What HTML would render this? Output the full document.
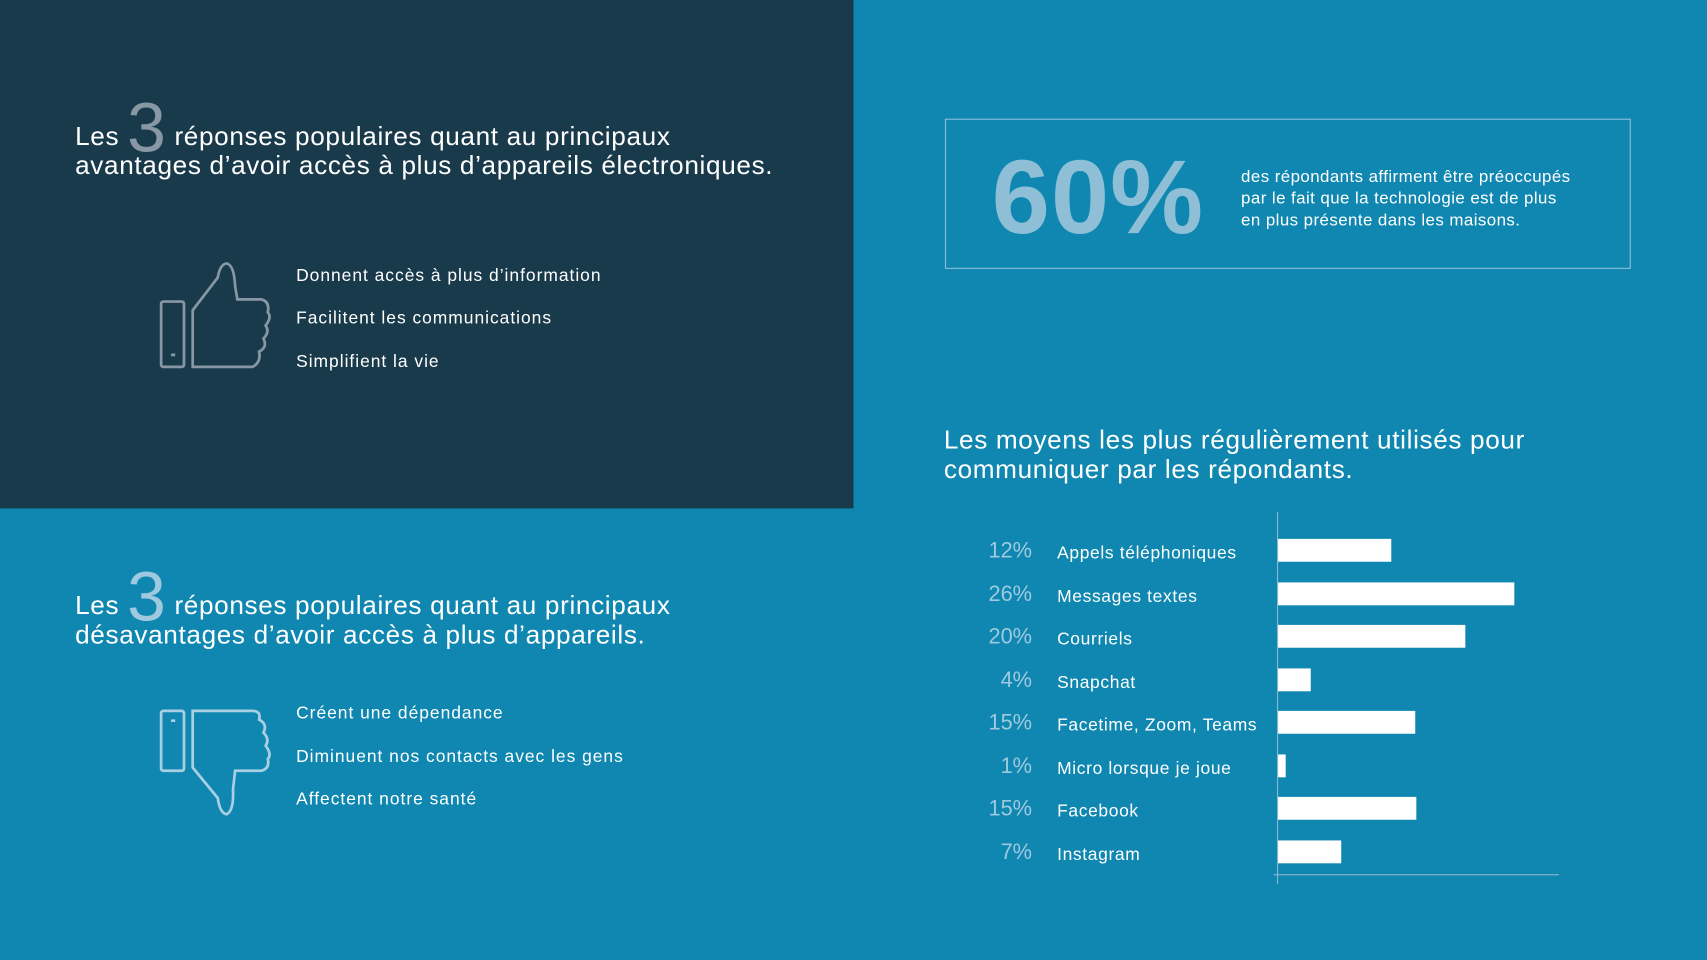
<!DOCTYPE html>
<html><head><meta charset="utf-8"><style>
html,body{margin:0;padding:0;width:1707px;height:960px;overflow:hidden;background:#0f87b1}
#w{position:absolute;left:0;top:0;width:1568px;height:882px;transform:scale(1.08865);transform-origin:0 0;background:#0f87b1;font-family:"Liberation Sans",sans-serif;color:#fff}
.a{position:absolute;white-space:nowrap}
.h{font-size:24px;font-weight:300;letter-spacing:0.6px;line-height:28px}
.it{font-size:16px;letter-spacing:0.9px}
.pc{font-size:20px;color:#9ec9de;width:60px;text-align:right;left:888px}
.lb{font-size:16px;left:971px;letter-spacing:0.6px}
.bar{position:absolute;left:1174px;height:21px;background:#fff}
</style></head><body><div id="w">
<div class="a" style="left:0;top:0;width:784px;height:467px;background:#193a4b"></div>

<div class="a h" style="left:69px;top:111px">Les <span style="font-size:64px;color:#8797a3;position:relative;top:6px;line-height:0">3</span> réponses populaires quant au principaux</div>
<div class="a h" style="left:69px;top:139px">avantages d’avoir accès à plus d’appareils électroniques.</div>
<div class="a it" style="left:272px;top:245px">Donnent accès à plus d’information</div>
<div class="a it" style="left:272px;top:284px">Facilitent les communications</div>
<div class="a it" style="left:272px;top:324px">Simplifient la vie</div>
<svg class="a" style="left:140px;top:235px" width="115" height="110" viewBox="0 0 115 110" fill="none" stroke="#8797a3" stroke-width="2.5">
<rect x="8" y="42" width="21" height="60" rx="2"/><line x1="17" y1="91" x2="21" y2="91"/>
<path d="M37 102 L37 50 L60 20 Q62 8 68 7 Q75 8 76 28 L78 40 L100 40 Q108 42 106 52 Q110 56 104 64 Q108 70 102 76 Q106 84 98 88 Q100 98 92 102 Z"/></svg>

<div class="a h" style="left:69px;top:542px">Les <span style="font-size:64px;color:#9ec9de;position:relative;top:6px;line-height:0">3</span> réponses populaires quant au principaux</div>
<div class="a h" style="left:69px;top:570px">désavantages d’avoir accès à plus d’appareils.</div>
<div class="a it" style="left:272px;top:647px">Créent une dépendance</div>
<div class="a it" style="left:272px;top:687px">Diminuent nos contacts avec les gens</div>
<div class="a it" style="left:272px;top:726px">Affectent notre santé</div>
<svg class="a" style="left:140px;top:645px" width="115" height="110" viewBox="0 0 115 110" fill="none" stroke="#a9cfe2" stroke-width="2.5">
<rect x="8" y="8" width="21" height="55" rx="2"/><line x1="17" y1="17" x2="21" y2="17"/>
<path d="M37 8 L37 60 L60 88 Q62 102 68 103 Q75 100 74 80 L76 63 L100 63 Q108 61 106 52 Q110 48 104 40 Q108 34 102 28 Q106 20 98 16 Q100 8 92 8 Z"/></svg>

<div class="a" style="left:868px;top:109px;width:628px;height:136px;border:1.5px solid #8cc0d8"></div>
<div class="a" style="left:911px;top:127px;font-size:96px;font-weight:bold;color:#8ebfd6;letter-spacing:1px">60%</div>
<div class="a" style="left:1140px;top:153px;font-size:15.5px;line-height:20px;letter-spacing:0.4px">des répondants affirment être préoccupés<br>par le fait que la technologie est de plus<br>en plus présente dans les maisons.</div>

<div class="a h" style="left:867px;top:391px">Les moyens les plus régulièrement utilisés pour</div>
<div class="a h" style="left:867px;top:418px">communiquer par les répondants.</div>

<div class="a" style="left:1173px;top:470px;width:1px;height:342px;background:#8cb8cc"></div>
<div class="a" style="left:1170px;top:803px;width:262px;height:1px;background:#8cb8cc"></div>

<div class="a pc" style="top:495px">12%</div><div class="a lb" style="top:500px">Appels téléphoniques</div><div class="bar" style="top:495px;width:104px"></div>
<div class="a pc" style="top:535px">26%</div><div class="a lb" style="top:540px">Messages textes</div><div class="bar" style="top:535px;width:217px"></div>
<div class="a pc" style="top:574px">20%</div><div class="a lb" style="top:579px">Courriels</div><div class="bar" style="top:574px;width:172px"></div>
<div class="a pc" style="top:614px">4%</div><div class="a lb" style="top:619px">Snapchat</div><div class="bar" style="top:614px;width:30px"></div>
<div class="a pc" style="top:653px">15%</div><div class="a lb" style="top:658px">Facetime, Zoom, Teams</div><div class="bar" style="top:653px;width:126px"></div>
<div class="a pc" style="top:693px">1%</div><div class="a lb" style="top:698px">Micro lorsque je joue</div><div class="bar" style="top:693px;width:7px"></div>
<div class="a pc" style="top:732px">15%</div><div class="a lb" style="top:737px">Facebook</div><div class="bar" style="top:732px;width:127px"></div>
<div class="a pc" style="top:772px">7%</div><div class="a lb" style="top:777px">Instagram</div><div class="bar" style="top:772px;width:58px"></div>
</div></body></html>
